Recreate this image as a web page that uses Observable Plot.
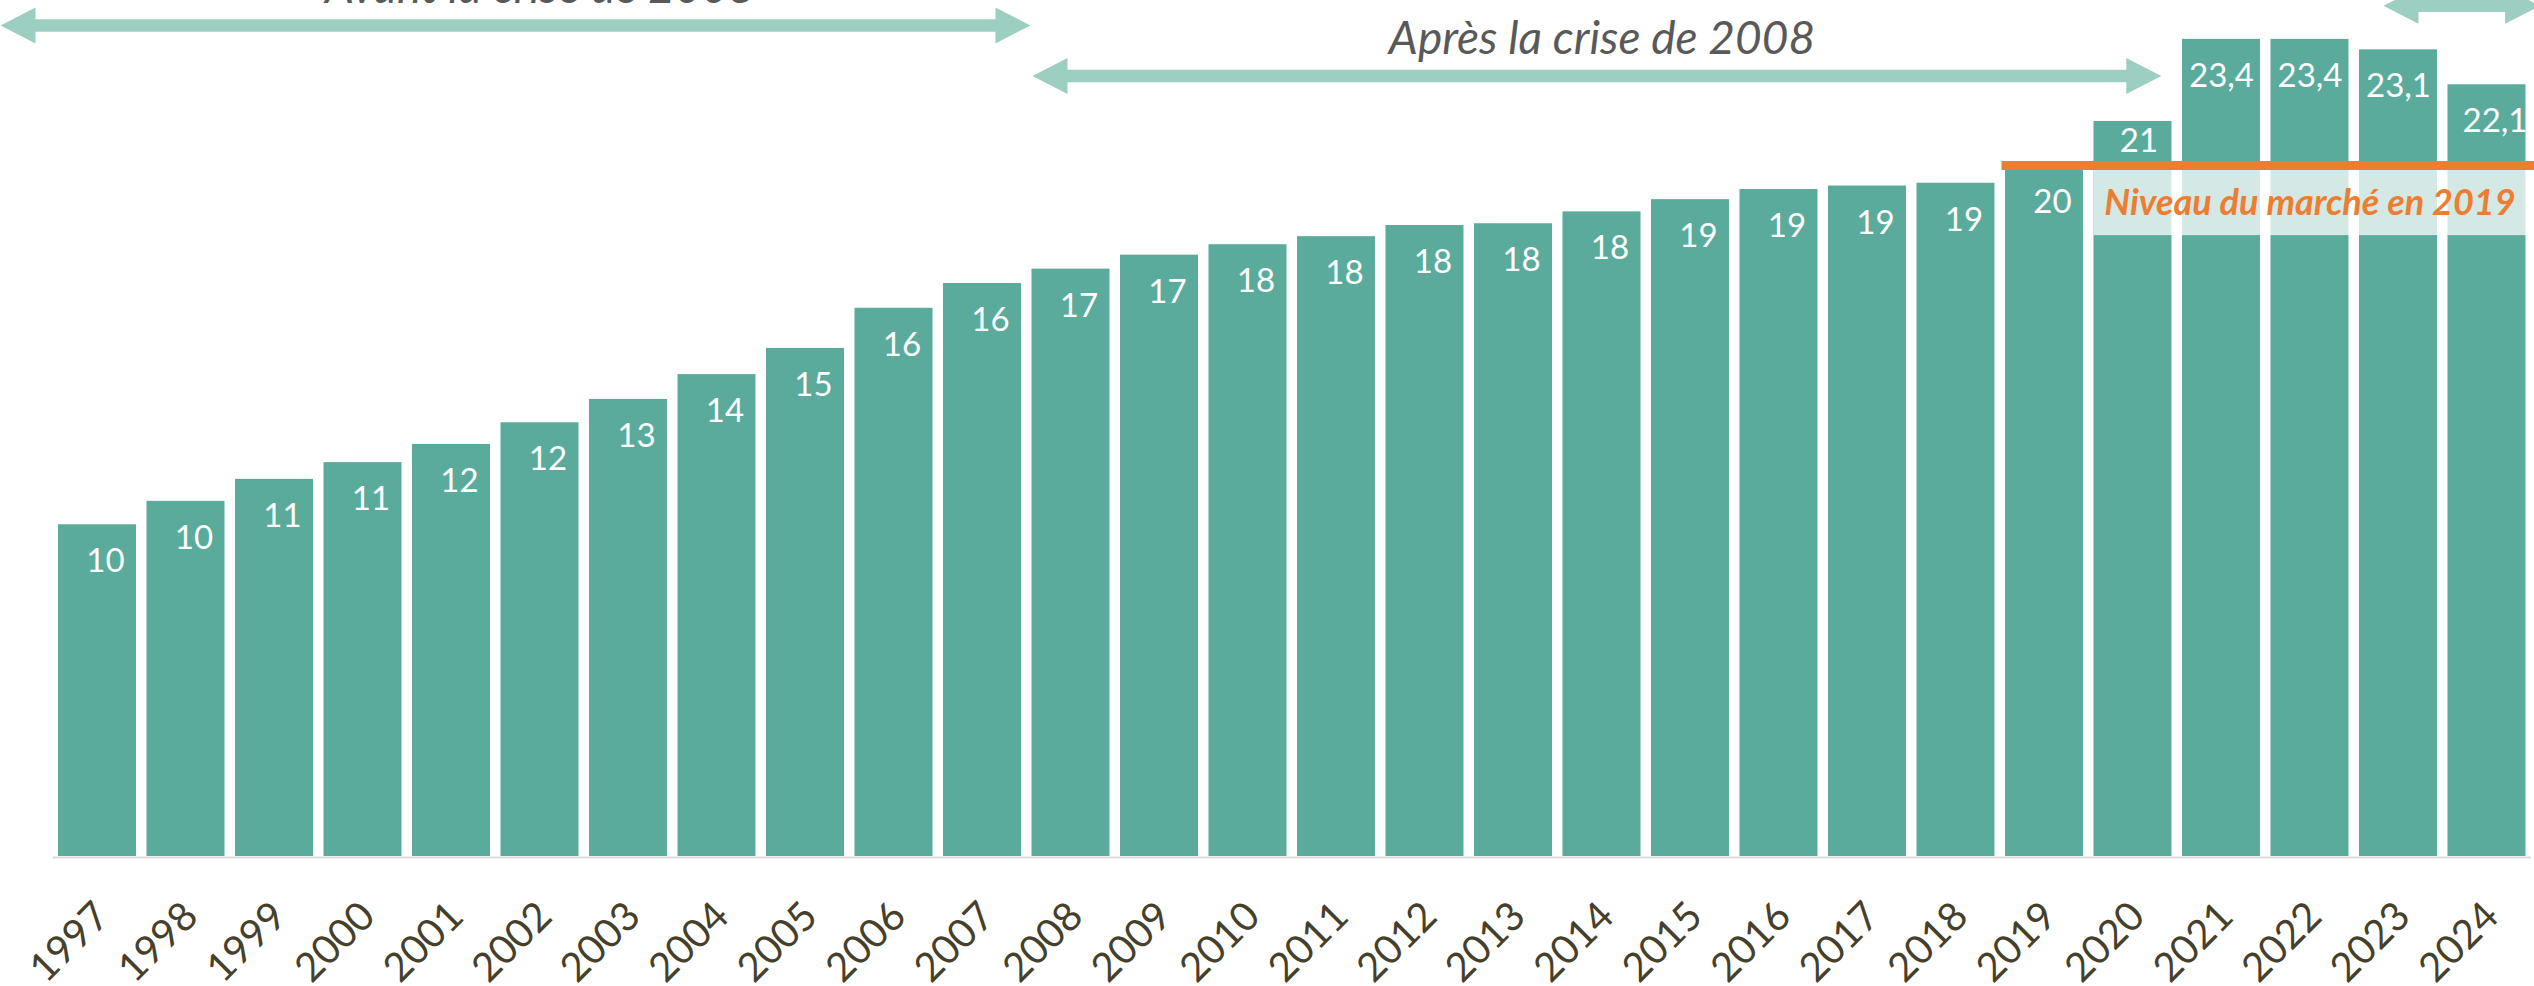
<!DOCTYPE html>
<html>
<head>
<meta charset="utf-8">
<script src="https://cdn.jsdelivr.net/npm/d3@7"></script>
<script src="https://cdn.jsdelivr.net/npm/@observablehq/plot@0.6"></script>
<style>
  html, body { margin: 0; padding: 0; background: #ffffff; }
  #chart svg { display: block; }
</style>
</head>
<body>
<div id="chart"></div>
<script>
// ---- Data ----
const years = [1997, 1998, 1999, 2000, 2001, 2002, 2003, 2004, 2005, 2006, 2007, 2008, 2009, 2010,
               2011, 2012, 2013, 2014, 2015, 2016, 2017, 2018, 2019, 2020, 2021, 2022, 2023, 2024];
const values = [9.50, 10.17, 10.80, 11.28, 11.80, 12.42, 13.09, 13.80, 14.55, 15.70, 16.41, 16.82, 17.22, 17.52,
                17.75, 18.07, 18.12, 18.46, 18.81, 19.10, 19.20, 19.28, 19.79, 21.05, 23.4, 23.4, 23.1, 22.1];
const valueLabels = ["10", "10", "11", "11", "12", "12", "13", "14", "15", "16", "16", "17", "17", "18",
                     "18", "18", "18", "18", "19", "19", "19", "19", "20", "21", "23,4", "23,4", "23,1", "22,1"];

// Periods (annotation arrows), in year units
const eraLabels = ["Avant la crise de 2008", "Après la crise de 2008", ""];
const eraStart = [1995.904, 2007.565, 2022.83];
const eraEnd = [2007.542, 2020.32, 2024.6];
const eraLevel = [23.80, 22.35, 24.36];
const eraLabelAt = [2002, 2014, 2023.7];

// 2019 market level annotation
const level2019 = 19.79;
const levelText = "Niveau du marché en 2019";
const levelLineFrom = 2018.52;
const bandFrom = 2019.56;
const bandLow = 17.78;
const bandHigh = 19.67;
const levelTextYear = 2022;
const levelTextValue = 18.70;

// ---- Styles ----
const barColor = "#5AAB9B";
const arrowColor = "#9DCEC2";
const orange = "#ED7D31";
const xMin = 1995.904, xMax = 2024.537;

const data = years.map((year, i) => ({year, value: values[i], label: valueLabels[i]}));
const eras = eraLabels.map((label, i) => ({label, from: eraStart[i], to: eraEnd[i], level: eraLevel[i], at: eraLabelAt[i]}));

const normal = data.filter(d => d.year <= 2019 || d.year === 2024);
const high = data.filter(d => d.year >= 2021 && d.year <= 2023);
const y2020 = data.filter(d => d.year === 2020);

const chart = Plot.plot({
  width: 2534,
  height: 986,
  marginTop: 0,
  marginRight: 0,
  marginBottom: 130,
  marginLeft: 0,
  style: {fontFamily: "Lato, 'Open Sans', sans-serif", background: "white", overflow: "visible"},
  x: {type: "linear", domain: [xMin, xMax], axis: null},
  y: {domain: [0, 24.513], axis: null},
  marks: [
    Plot.rectY(data, {x1: d => d.year - 0.5, x2: d => d.year + 0.5, y: "value", fill: barColor, insetLeft: 5.25, insetRight: 5.25}),
    Plot.ruleY([0], {x1: 1996.5, x2: 2024.5, stroke: "#D9D9D9", strokeWidth: 2, dy: 1}),
    // 2019 level band + line
    Plot.rect([0], {x1: bandFrom, x2: xMax, y1: bandLow, y2: bandHigh, fill: "white", fillOpacity: 0.74}),
    Plot.ruleY([level2019], {x1: levelLineFrom, x2: xMax, stroke: orange, strokeWidth: 9}),
    Plot.text([levelText], {x: levelTextYear, y: levelTextValue, text: d => d, fill: orange, fontSize: 36, fontWeight: "bold", fontStyle: "italic", lineAnchor: "middle", dx: 0}),
    // value labels
    Plot.text(normal, {x: "year", y: "value", text: "label", fill: "white", fontSize: 33, dx: 8, dy: 37, lineAnchor: "middle"}),
    Plot.text(high, {x: "year", y: "value", text: "label", fill: "white", fontSize: 33, dx: 0, dy: 37, lineAnchor: "middle"}),
    Plot.text(y2020, {x: "year", y: "value", text: "label", fill: "white", fontSize: 33, dx: 6, dy: 20, lineAnchor: "middle"}),
    // period arrows
    Plot.ruleY(eras, {y: "level", x1: "from", x2: "to", stroke: arrowColor, strokeWidth: 12.5, insetLeft: 30, insetRight: 30}),
    Plot.vector(eras, {x: "from", y: "level", rotate: -90, length: 35, r: 18, anchor: "end", shape: "spike", fill: arrowColor, stroke: "none"}),
    Plot.vector(eras, {x: "to", y: "level", rotate: 90, length: 35, r: 18, anchor: "end", shape: "spike", fill: arrowColor, stroke: "none"}),
    Plot.text(eras, {x: "at", y: "level", text: "label", fill: "#595959", fontSize: 46, fontStyle: "italic", fontWeight: 400, dy: -37, lineAnchor: "middle"}),
    // x axis
    Plot.axisX(years, {tickFormat: d => String(d), tickRotate: -45, tickSize: 0, tickPadding: 53, dx: 5, fontSize: 40, fill: "#45402B", textAnchor: "end", lineAnchor: "middle"})
  ]
});
document.getElementById("chart").appendChild(chart);
</script>
</body>
</html>
